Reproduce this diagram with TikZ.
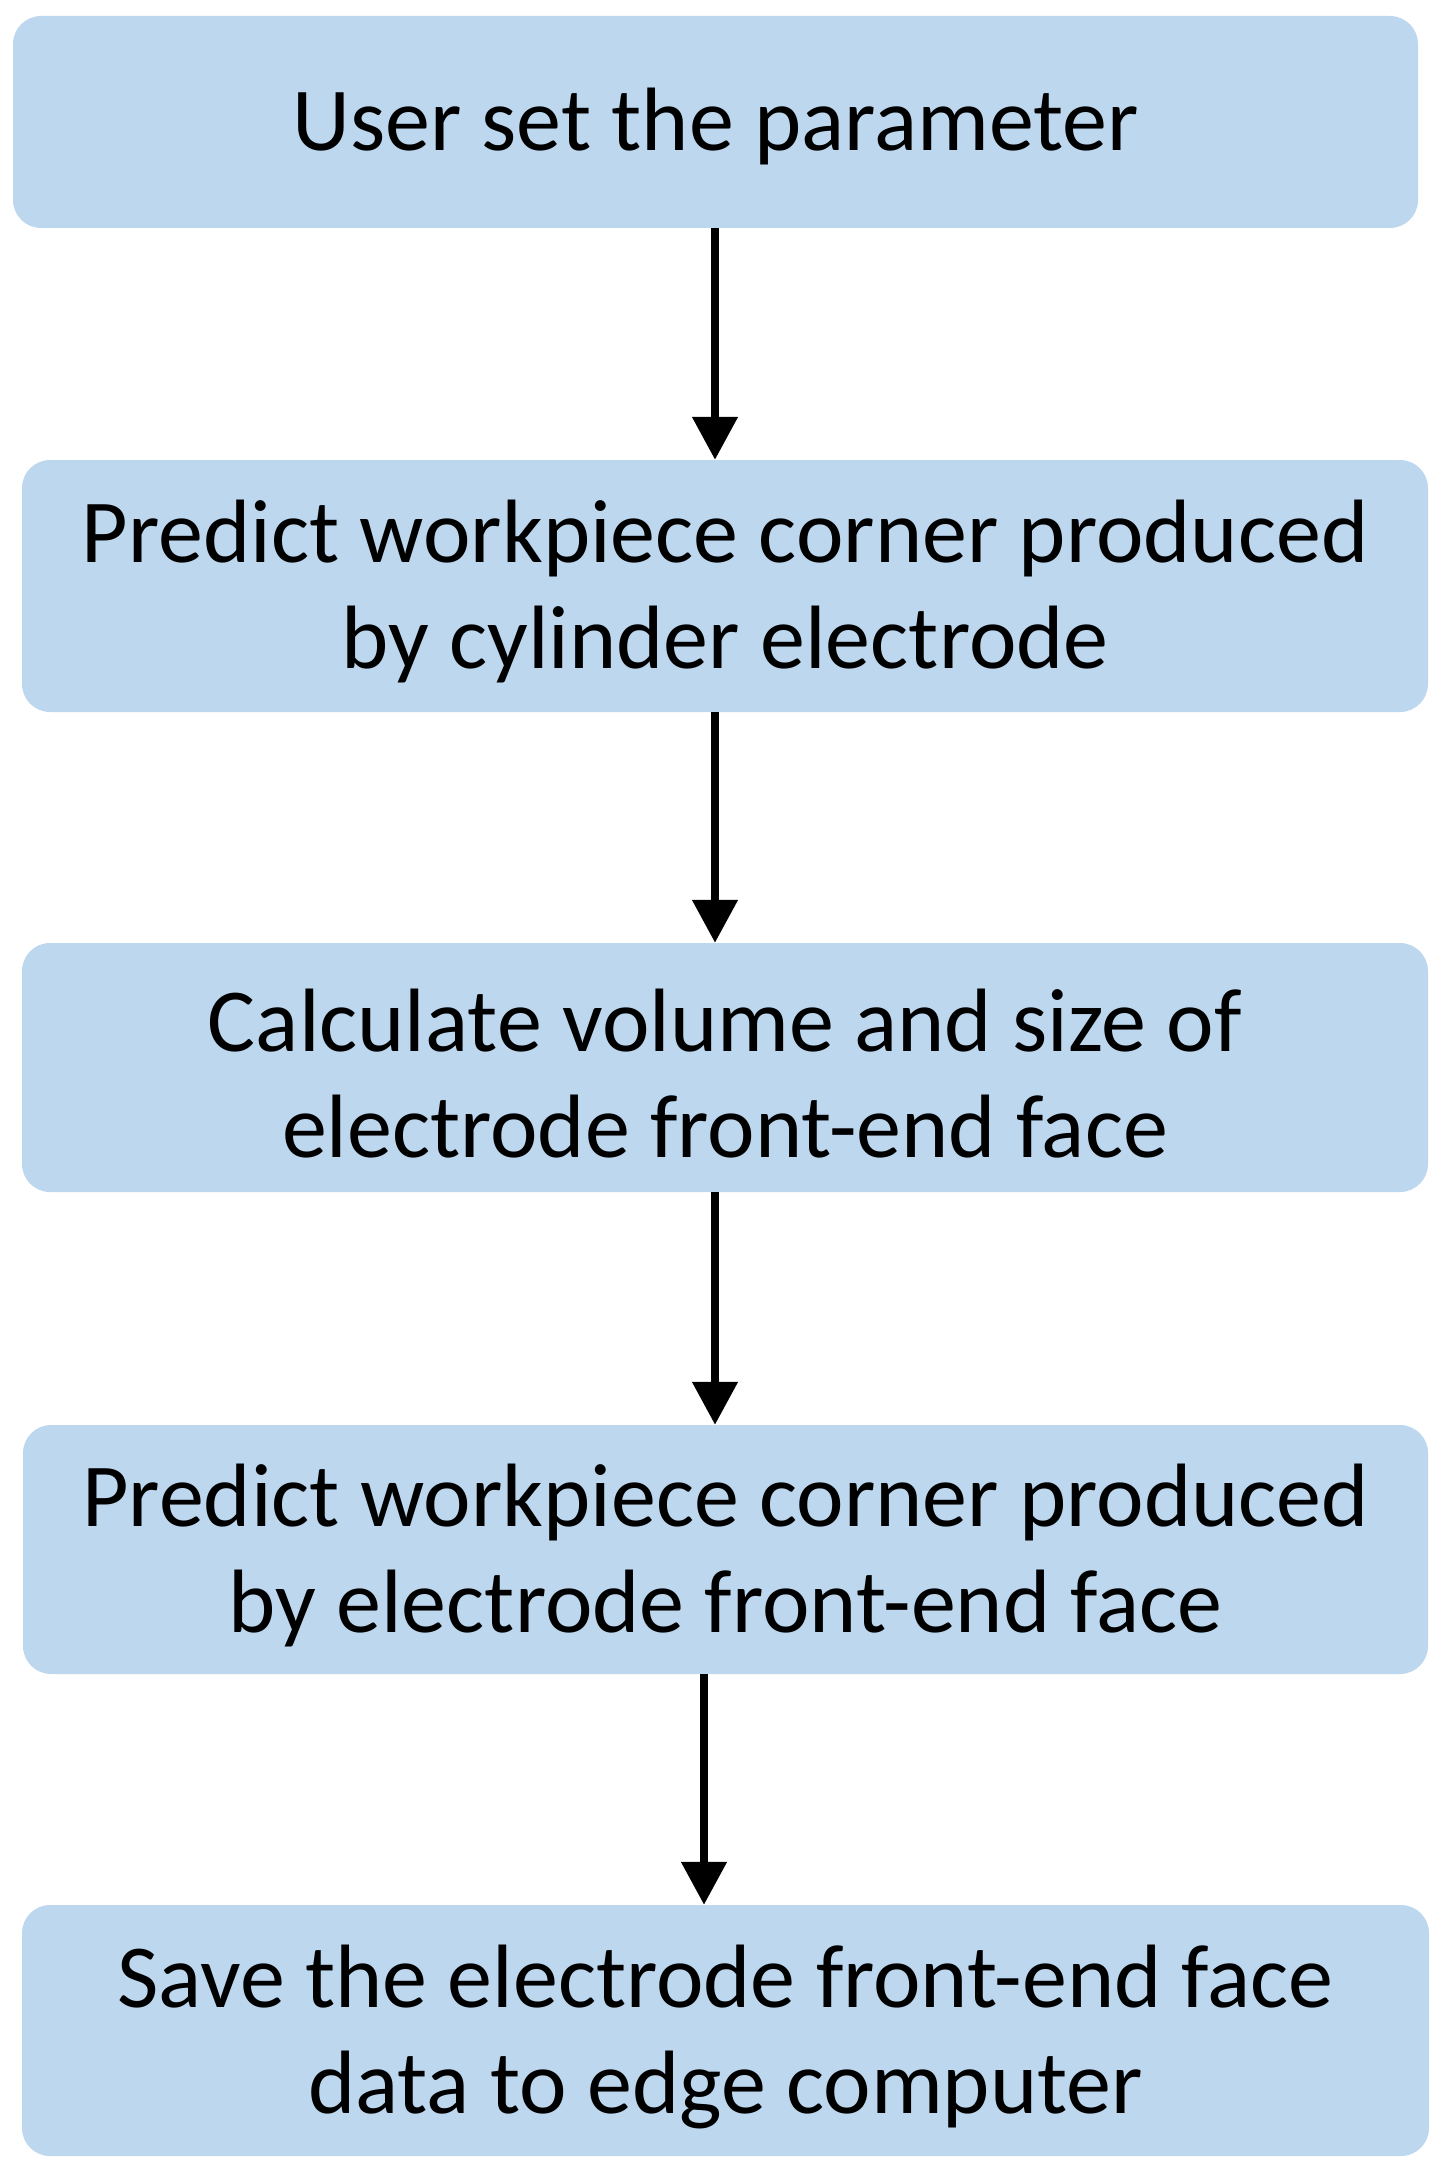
\documentclass[tikz,border=0pt]{standalone}
\usepackage{fontspec}
\setmainfont{Carlito}
\usetikzlibrary{arrows.meta}
\definecolor{boxblue}{HTML}{BDD7EE}
\tikzset{
  stepbox/.style={rectangle, rounded corners=28pt, fill=boxblue, draw=none,
    inner sep=0pt},
  steptext/.style={inner sep=0pt, align=center, text=black,
    font=\fontsize{90}{106}\selectfont},
  flowarrow/.style={line width=8pt, draw=black,
    -{Triangle[width=44pt,length=43pt]}}
}
\begin{document}
\begin{tikzpicture}[x=1pt,y=-1pt]
\useasboundingbox (0,0) rectangle (1448,2183);
\node[stepbox, minimum width=1405pt, minimum height=212pt] (b1) at (715.5,122) {};
\node[stepbox, minimum width=1406pt, minimum height=252pt] (b2) at (725,586) {};
\node[stepbox, minimum width=1406pt, minimum height=249pt] (b3) at (725,1067.5) {};
\node[stepbox, minimum width=1405pt, minimum height=249pt] (b4) at (725.5,1549.5) {};
\node[stepbox, minimum width=1407pt, minimum height=251pt] (b5) at (725.5,2030.5) {};
\node[steptext] (t1) at ([yshift=-5pt]b1.center) {User set the parameter};
\node[steptext] (t2) at ([yshift=-6pt]b2.center)
  {Predict workpiece corner produced\\by cylinder electrode};
\node[steptext] (t3) at ([yshift=-6pt]b3.center)
  {Calculate volume and size of\\electrode front-end face};
\node[steptext] (t4) at ([yshift=-6pt]b4.center)
  {Predict workpiece corner produced\\by electrode front-end face};
\node[steptext] (t5) at ([yshift=-6pt]b5.center)
  {Save the electrode front-end face\\data to edge computer};
\coordinate (a1) at ([xshift=-0.5pt]b1.south);
\coordinate (a2) at ([xshift=-10pt]b2.south);
\coordinate (a3) at ([xshift=-10pt]b3.south);
\coordinate (a4) at ([xshift=-21.5pt]b4.south);
\draw[flowarrow] (a1) -- (a1 |- b2.north);
\draw[flowarrow] (a2) -- (a2 |- b3.north);
\draw[flowarrow] (a3) -- (a3 |- b4.north);
\draw[flowarrow] (a4) -- (a4 |- b5.north);
\end{tikzpicture}
\end{document}
